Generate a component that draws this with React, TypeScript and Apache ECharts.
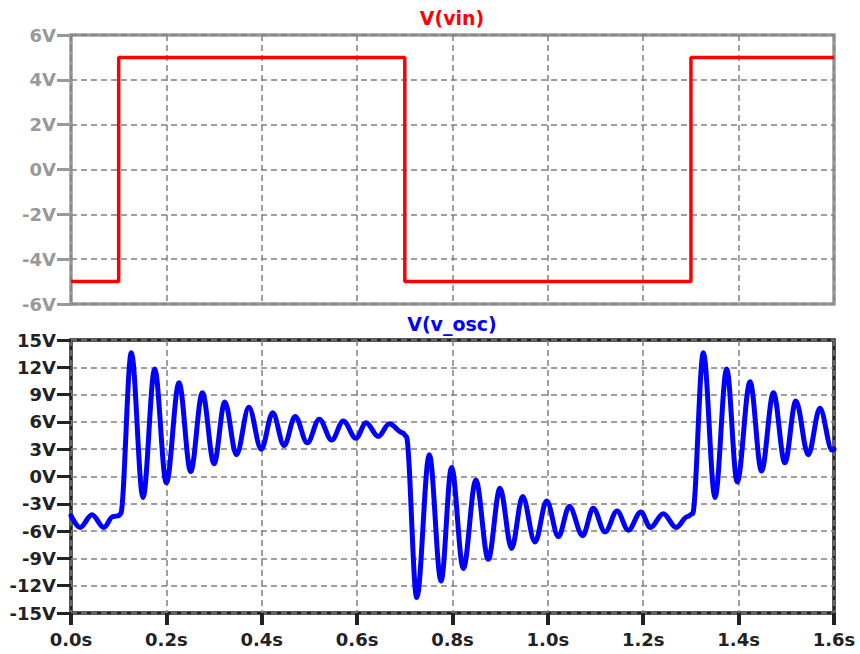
import React, { useEffect, useRef } from 'react';
import * as echarts from 'echarts';

// V(vin) square wave: time (s) and level (V), drawn as steps
const vinTimes = [0, 0.1, 0.7, 1.3, 1.6];
const vinValues = [-5, 5, -5, 5, 5];

// V(v_osc): peaks / troughs
const oscTimes = [
  0, 0.019, 0.044, 0.069, 0.088, 0.1, 0.104,
  0.1265, 0.151, 0.1755, 0.2, 0.2265, 0.251, 0.2755, 0.3, 0.3225, 0.347, 0.373, 0.399,
  0.423, 0.447, 0.47, 0.4955, 0.5207, 0.5467, 0.571, 0.5977, 0.6187, 0.6445, 0.6676, 0.6956, 0.703,
  0.725, 0.7514, 0.776, 0.798, 0.8227, 0.849, 0.875, 0.8996, 0.924, 0.947, 0.973, 0.9975,
  1.022, 1.045, 1.073, 1.095, 1.12, 1.145, 1.1687, 1.195, 1.215, 1.242, 1.269, 1.293, 1.3033,
  1.326, 1.3505, 1.375, 1.397, 1.424, 1.448, 1.473, 1.497, 1.52, 1.546, 1.5705, 1.596, 1.6,
];
const oscValues = [
  -4.3, -5.6, -4.2, -5.6, -4.4, -4.3, -4.1,
  13.6, -2.3, 11.8, -0.7, 10.3, 0.55, 9.2, 1.4, 8.2, 2.4, 7.6, 3.0,
  7.0, 3.4, 6.6, 3.7, 6.3, 4.0, 6.1, 4.2, 5.9, 4.4, 5.8, 4.8, 4.4,
  -13.3, 2.4, -11.5, 1.0, -10.1, -0.4, -9.1, -1.3, -7.9, -2.2, -7.2, -2.7,
  -6.6, -3.3, -6.5, -3.5, -6.1, -3.8, -5.9, -3.9, -5.6, -4.1, -5.6, -4.4, -4.1,
  13.6, -2.3, 11.8, -0.6, 10.4, 0.6, 9.2, 1.5, 8.3, 2.4, 7.5, 2.9, 3.0,
];

const vinTitle = 'V(vin)';
const oscTitle = 'V(v_osc)';

const FONT = 'DejaVu Sans';

export default function App() {
  const ref = useRef<HTMLDivElement>(null);
  useEffect(() => {
    document.body.style.margin = '0';
    const chart = echarts.init(ref.current!, undefined, { renderer: 'svg' });
    const gridLine = { show: true, lineStyle: { color: '#808080', width: 1.5, type: [6, 4] as any } };
    const labelBase = { fontSize: 18, fontWeight: 'bold' as const, fontFamily: FONT };
    chart.setOption({
      animation: false,
      backgroundColor: '#ffffff',
      grid: [
        { left: 71, top: 35, width: 763, height: 269, show: true, borderColor: '#999999', borderWidth: 3.5, backgroundColor: 'transparent' },
        { left: 71, top: 340, width: 763, height: 273, show: true, borderColor: '#222222', borderWidth: 3.5, backgroundColor: 'transparent' },
      ],
      xAxis: [
        {
          gridIndex: 0, type: 'value', min: 0, max: 1.6, interval: 0.2,
          axisLine: { show: false, onZero: false }, axisTick: { show: false }, axisLabel: { show: false },
          splitLine: gridLine,
        },
        {
          gridIndex: 1, type: 'value', min: 0, max: 1.6, interval: 0.2,
          axisLine: { show: false, onZero: false },
          axisTick: { show: true, length: 12, lineStyle: { color: '#222222', width: 4 } },
          axisLabel: { ...labelBase, margin: 17, color: '#222222', formatter: (v: number) => v.toFixed(1) + 's' },
          splitLine: gridLine,
        },
      ],
      yAxis: [
        {
          gridIndex: 0, type: 'value', min: -6, max: 6, interval: 2,
          axisLine: { show: false, onZero: false },
          axisTick: { show: true, length: 14, lineStyle: { color: '#999999', width: 3 } },
          axisLabel: { ...labelBase, margin: 15, color: '#999999', formatter: (v: number) => Math.round(v) + 'V' },
          splitLine: gridLine,
        },
        {
          gridIndex: 1, type: 'value', min: -15, max: 15, interval: 3,
          axisLine: { show: false, onZero: false },
          axisTick: { show: true, length: 14, lineStyle: { color: '#222222', width: 3 } },
          axisLabel: { ...labelBase, margin: 15, color: '#222222', formatter: (v: number) => Math.round(v) + 'V' },
          splitLine: gridLine,
        },
      ],
      graphic: [
        { type: 'text', x: 452, y: 18, style: { text: vinTitle, fill: '#ff0000', font: `bold 19px "${FONT}"`, textAlign: 'center', textVerticalAlign: 'middle' } },
        { type: 'text', x: 452, y: 324, style: { text: oscTitle, fill: '#0000ff', font: `bold 19px "${FONT}"`, textAlign: 'center', textVerticalAlign: 'middle' } },
      ],
      series: [
        {
          type: 'line', xAxisIndex: 0, yAxisIndex: 0, step: 'end', showSymbol: false,
          data: vinTimes.map((t, i) => [t, vinValues[i]]),
          lineStyle: { color: '#ff0000', width: 3.5 },
        },
        {
          type: 'line', xAxisIndex: 1, yAxisIndex: 1, smooth: 0.35, smoothMonotone: 'x', showSymbol: false,
          data: oscTimes.map((t, i) => [t, oscValues[i]]),
          lineStyle: { color: '#0000ff', width: 5, join: 'round', cap: 'round' },
        },
      ],
    });
    return () => chart.dispose();
  }, []);
  return <div ref={ref} style={{ width: 860, height: 654 }} />;
}
